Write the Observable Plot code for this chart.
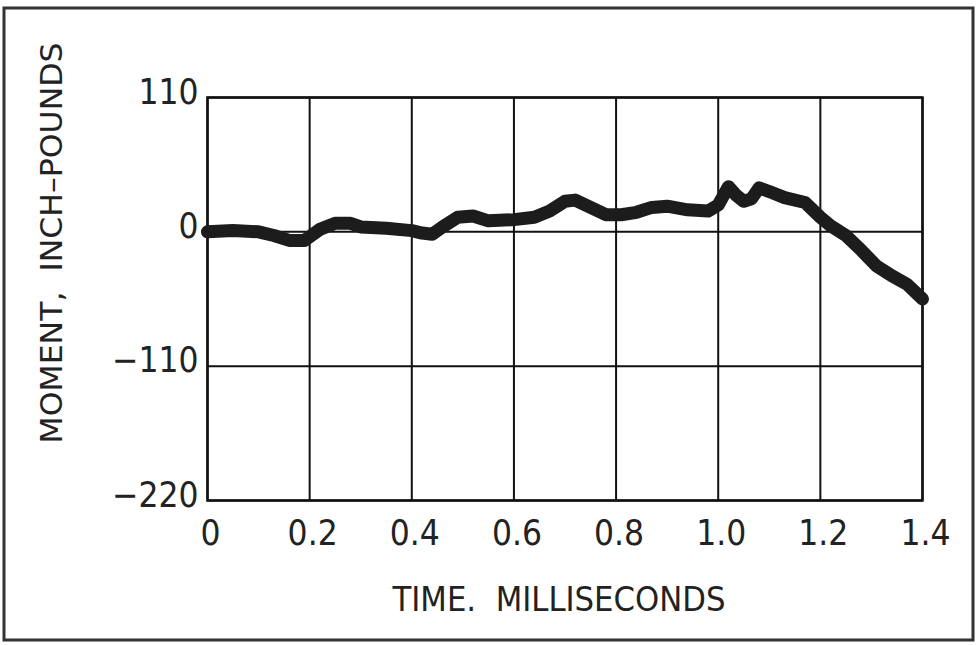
<!DOCTYPE html>
<html>
<head>
<meta charset="utf-8">
<script src="https://cdn.jsdelivr.net/npm/d3@7"></script>
<script src="https://cdn.jsdelivr.net/npm/@observablehq/plot@0.6"></script>
<style>
  html, body { margin: 0; padding: 0; background: #fff; }
  #chart { width: 976px; height: 645px; }
</style>
</head>
<body>
<div id="chart"></div>
<script>
// Time in milliseconds
const time = [0.00, 0.05, 0.10, 0.13, 0.16, 0.19, 0.20, 0.22, 0.25, 0.28, 0.30, 0.35, 0.40, 0.42, 0.44,
  0.46, 0.49, 0.52, 0.55, 0.60, 0.64, 0.67, 0.70, 0.72, 0.75, 0.78, 0.81, 0.84, 0.87, 0.90, 0.94, 0.98,
  1.00, 1.02, 1.035, 1.05, 1.065, 1.08, 1.10, 1.13, 1.17, 1.20, 1.22, 1.25, 1.28, 1.31, 1.34, 1.37, 1.40];
// Moment in inch-pounds
const moment = [0, 1, 0, -3, -7, -7, -4, 2, 7, 7, 4, 3, 1, -1, -2,
  4, 12, 13, 9, 10, 12, 17, 25, 26, 20, 14, 14, 16, 20, 21, 18, 17,
  22, 37, 30, 25, 27, 36, 33, 28, 24, 12, 5, -3, -15, -28, -36, -43, -55];

const xTicks = [0, 0.2, 0.4, 0.6, 0.8, 1.0, 1.2, 1.4];
const xTickLabels = ["0", "0.2", "0.4", "0.6", "0.8", "1.0", "1.2", "1.4"];
const yTicks = [110, 0, -110, -220];
const yTickLabels = ["110", "0", "\u2212110", "\u2212220"];
const xTitle = "TIME.  MILLISECONDS";
const yTitle = "MOMENT,  INCH\u2013POUNDS";

const data = time.map((t, i) => ({t, m: moment[i]}));
const font = "'DejaVu Sans Condensed', 'DejaVu Sans', sans-serif";
const ink = "#222";

const chart = Plot.plot({
  width: 976,
  height: 645,
  marginLeft: 207,
  marginRight: 54,
  marginTop: 97,
  marginBottom: 145,
  style: {fontFamily: font, fontSize: "34px", color: ink, background: "#fff"},
  x: {domain: [0, 1.4]},
  y: {domain: [-220, 110]},
  marks: [
    Plot.gridX(xTicks, {stroke: "#111", strokeOpacity: 1, strokeWidth: 2}),
    Plot.gridY(yTicks, {stroke: "#111", strokeOpacity: 1, strokeWidth: 2}),
    Plot.frame({stroke: "#111", strokeWidth: 2.5}),
    Plot.axisX(xTicks, {tickSize: 0, tickPadding: 20, label: null, dx: 3,
      tickFormat: (d) => xTickLabels[xTicks.indexOf(d)], fontSize: 35}),
    Plot.axisY(yTicks, {tickSize: 0, tickPadding: 9, label: null, dy: -5,
      tickFormat: (d) => yTickLabels[yTicks.indexOf(d)], fontSize: 35}),
    Plot.line(data, {x: "t", y: "m", stroke: "#1c1c1c", strokeWidth: 13, strokeLinejoin: "round"}),
    Plot.text([xTitle], {text: (d) => d, frameAnchor: "bottom", textAnchor: "middle", lineAnchor: "middle",
      dx: -6, dy: 100, fontSize: 34}),
    Plot.text([yTitle], {text: (d) => d, frameAnchor: "left", textAnchor: "middle", lineAnchor: "middle",
      dx: -155, dy: -56, rotate: -90, fontSize: 31})
  ]
});

const svg = d3.select(chart);
svg.selectAll("text").each(function () {
  const s = this.textContent;
  if (s === xTitle) d3.select(this).attr("textLength", 333).attr("lengthAdjust", "spacingAndGlyphs");
  if (s === yTitle) d3.select(this).attr("textLength", 401).attr("lengthAdjust", "spacingAndGlyphs");
});
svg.append("rect")
  .attr("x", 4).attr("y", 8).attr("width", 969).attr("height", 632)
  .attr("fill", "none").attr("stroke", "#333").attr("stroke-width", 3);

document.getElementById("chart").appendChild(chart);
</script>
</body>
</html>
